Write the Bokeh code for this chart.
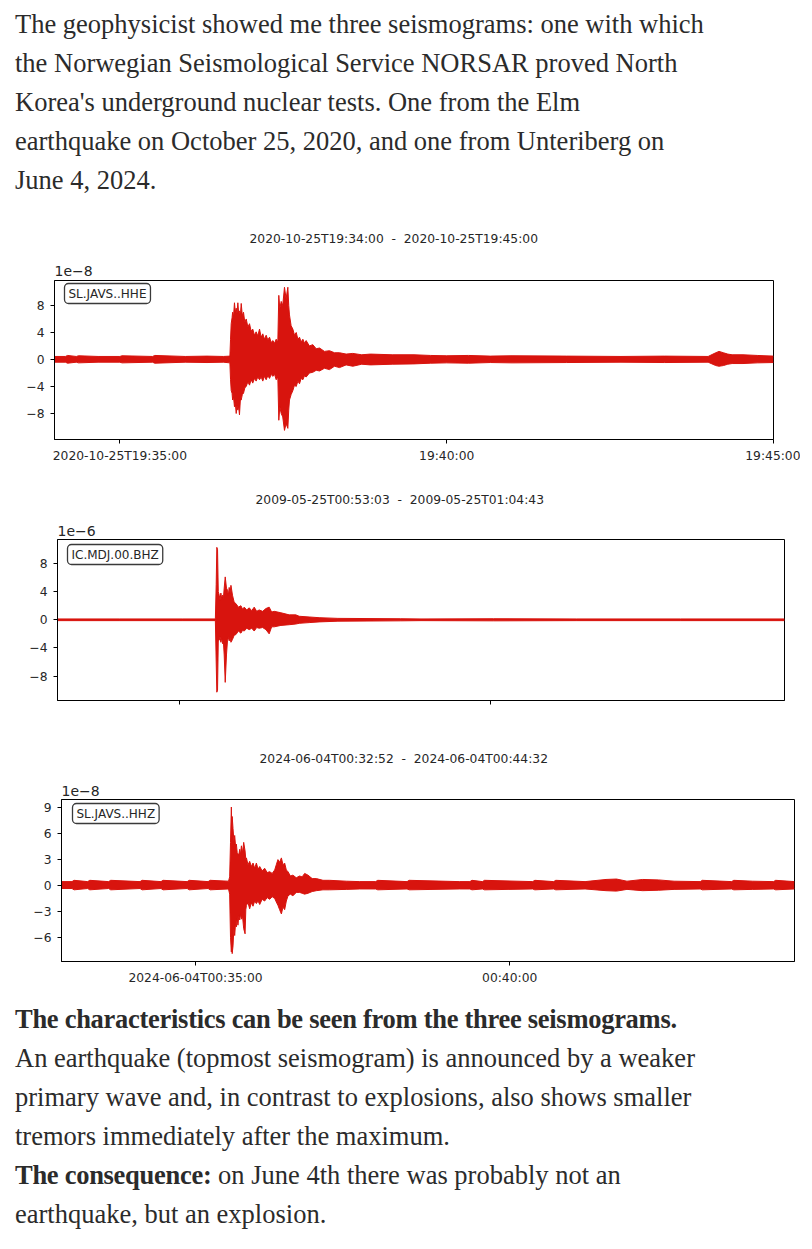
from bokeh.plotting import figure
from bokeh.models import Div, Title, Label, FixedTicker, Range1d
from bokeh.embed import file_html
from bokeh.resources import INLINE

RED = "#d8140e"
INK = "#262626"

# ---------------- Panel 1: Elm earthquake, SL.JAVS..HHE (units 1e-8), seconds after 19:34:00
t1 = [0, 10, 12, 20, 22, 40, 60, 62, 90, 92,
      120, 140, 155, 161.0, 161.6, 162.2, 163.0, 163.5, 164.3, 165.2,
      166.0, 166.8, 167.5, 168.3, 169.0, 169.8, 170.6, 171.4, 172.4, 173.5,
      174.7, 176.0, 177.5, 179.0, 180.5, 182.0, 183.5, 185.1, 186.6, 188.2,
      189.7, 191.2, 192.7, 194.3, 195.8, 197.4, 198.9, 200.4, 202.0, 203.5,
      205.0, 205.9, 206.8, 208.1, 209.5, 211.1, 212.6, 214.2, 215.0, 215.7,
      217.2, 218.8, 220.3, 221.9, 223.4, 224.9, 226.4, 228.0, 229.5, 231.0,
      234.0, 237.1, 240.2, 243.3, 247.8, 252.4, 257.0, 261.6, 267.7, 273.8,
      282, 290, 310, 330, 345, 360, 380, 400, 420, 470,
      520, 560, 600, 607, 610, 614, 618, 622, 632, 645,
      660]
up1 = [0.45, 0.45, 0.6, 0.45, 0.55, 0.45, 0.45, 0.55, 0.45, 0.6,
       0.45, 0.5, 0.45, 0.5, 3.0, 5.3, 6.2, 7.0, 6.3, 8.4,
       7.0, 7.6, 6.8, 8.4, 7.0, 7.2, 6.5, 8.3, 6.5, 7.0,
       5.5, 6.0, 4.8, 5.3, 4.2, 4.5, 3.6, 4.1, 3.5, 4.5,
       3.3, 3.8, 3.0, 3.6, 2.9, 3.3, 2.5, 2.8, 2.4, 3.0,
       2.6, 9.5, 7.5, 8.6, 8.0, 10.7, 9.0, 10.7, 8.0, 6.6,
       5.0, 4.5, 3.6, 4.0, 3.0, 3.3, 2.6, 3.0, 2.4, 2.8,
       2.0, 2.2, 1.6, 1.7, 1.2, 1.3, 1.0, 1.0, 0.8, 0.9,
       0.7, 0.8, 0.7, 0.7, 0.6, 0.55, 0.6, 0.5, 0.55, 0.5,
       0.45, 0.5, 0.45, 1.0, 1.2, 1.0, 0.8, 0.7, 0.7, 0.6,
       0.5]
lo1 = [-0.4, -0.4, -0.55, -0.4, -0.5, -0.4, -0.4, -0.5, -0.4, -0.55,
       -0.4, -0.45, -0.4, -0.5, -3.0, -4.6, -5.0, -6.0, -5.5, -7.0,
       -6.5, -8.0, -6.8, -7.5, -6.9, -8.2, -6.0, -6.0, -5.2, -5.0,
       -4.2, -4.0, -3.3, -3.8, -3.0, -3.5, -2.8, -3.2, -2.6, -3.0,
       -2.6, -3.2, -2.5, -3.0, -2.4, -2.8, -2.2, -2.5, -2.2, -3.0,
       -2.6, -9.0, -7.0, -8.0, -8.5, -10.5, -9.5, -10.2, -7.5, -6.0,
       -5.2, -4.6, -3.8, -4.0, -3.2, -3.6, -2.8, -3.0, -2.4, -2.6,
       -2.0, -1.9, -1.6, -1.7, -1.3, -1.5, -1.0, -1.2, -0.8, -1.0,
       -0.7, -0.8, -0.7, -0.65, -0.55, -0.5, -0.55, -0.45, -0.5, -0.45,
       -0.4, -0.45, -0.4, -0.9, -1.0, -0.9, -0.7, -0.6, -0.6, -0.5,
       -0.45]
x1_ticks = [60, 360, 660]
x1_labels = ["2020-10-25T19:35:00", "19:40:00", "19:45:00"]
y1_ticks = [-8, -4, 0, 4, 8]
y1_labels = ["\u22128", "\u22124", "0", "4", "8"]

# ---------------- Panel 2: North Korea test, IC.MDJ.00.BHZ (units 1e-6), seconds after 00:53:03
t2 = [0, 60, 120, 152.0, 152.8, 153.4, 154.1, 154.8, 155.7, 156.5,
      157.3, 158.1, 158.9, 159.7, 160.5, 161.5, 162.7, 163.7, 164.5, 165.3,
      166.2, 167.0, 168.5, 170.1, 171.8, 174.2, 176.6, 178.2, 179.8, 182.2,
      184.6, 187.0, 189.4, 191.8, 194.2, 197.5, 200.7, 203.8, 206.2, 208.7,
      215.1, 223.1, 229.5, 232.7, 242.3, 251.9, 270, 330, 350, 420,
      500, 600, 700]
up2 = [0.12, 0.12, 0.12, 0.12, 5.0, 10.3, 10.0, 4.0, 3.5, 2.8,
       3.8, 3.0, 3.5, 3.0, 4.5, 6.1, 4.5, 4.2, 3.5, 4.6,
       3.8, 4.9, 3.5, 2.5, 2.3, 1.8, 2.0, 1.5, 1.8, 1.4,
       1.7, 1.3, 1.8, 1.2, 1.4, 1.2, 1.6, 1.8, 1.1, 1.2,
       1.0, 0.7, 0.7, 0.5, 0.4, 0.3, 0.2, 0.15, 0.12, 0.15,
       0.12, 0.12, 0.12]
lo2 = [-0.12, -0.12, -0.12, -0.12, -6.0, -10.3, -10.0, -3.0, -2.9, -2.4,
       -3.2, -2.6, -3.4, -3.0, -5.0, -8.9, -5.0, -2.9, -2.5, -3.0,
       -2.6, -3.2, -2.8, -2.2, -2.1, -1.6, -1.9, -1.5, -1.6, -1.2,
       -1.4, -1.2, -1.6, -1.1, -1.2, -1.1, -1.4, -2.0, -1.0, -1.0,
       -0.8, -0.7, -0.6, -0.5, -0.4, -0.3, -0.2, -0.15, -0.12, -0.15,
       -0.12, -0.12, -0.12]
x2_ticks = [117, 417]
x2_labels = ["", ""]
y2_ticks = [-8, -4, 0, 4, 8]
y2_labels = ["\u22128", "\u22124", "0", "4", "8"]

# ---------------- Panel 3: Unteriberg, SL.JAVS..HHZ (units 1e-8), seconds after 00:32:52
t3 = [0, 10, 12, 25, 27, 45, 47, 75, 77, 95,
      97, 120, 122, 140, 142, 159.5, 160.6, 161.4, 162.2, 162.6,
      163.0, 163.8, 164.6, 165.4, 166.2, 167.0, 167.8, 168.5, 169.3, 170.2,
      171.0, 171.8, 172.9, 174.0, 175.3, 176.0, 176.6, 178.1, 179.7, 181.3,
      182.9, 184.5, 186.1, 187.7, 189.3, 191.6, 194.0, 196.4, 198.8, 201.2,
      203.6, 205.1, 206.7, 208.3, 210.0, 211.5, 213.1, 214.7, 216.3, 218.6,
      221.0, 224.2, 227.4, 229.8, 232.2, 235.4, 239.4, 243.4, 249.7, 256.1,
      272.0, 284.7, 300, 302, 330, 332, 380, 390, 392, 402,
      404, 450, 452, 470, 472, 500, 520, 530, 540, 555,
      570, 585, 610, 612, 640, 642, 660, 680, 682, 700]
up3 = [0.45, 0.45, 0.6, 0.45, 0.6, 0.45, 0.6, 0.45, 0.6, 0.45,
       0.6, 0.45, 0.6, 0.45, 0.6, 0.5, 1.0, 5.0, 9.1, 7.0,
       8.0, 6.6, 5.2, 5.8, 4.6, 4.8, 3.8, 3.7, 3.5, 4.2,
       3.6, 4.6, 3.8, 5.0, 4.0, 3.0, 3.2, 2.4, 2.8, 2.2,
       2.6, 2.0, 2.6, 1.9, 2.2, 1.7, 2.0, 1.5, 1.6, 1.4,
       1.8, 2.4, 3.0, 2.7, 3.2, 2.4, 2.6, 1.8, 1.6, 1.1,
       1.2, 0.9, 1.1, 1.0, 1.4, 1.2, 0.8, 0.8, 0.6, 0.6,
       0.5, 0.45, 0.45, 0.6, 0.45, 0.6, 0.45, 0.45, 0.6, 0.45,
       0.6, 0.45, 0.6, 0.45, 0.6, 0.45, 0.7, 0.75, 0.5, 0.7,
       0.65, 0.5, 0.45, 0.6, 0.45, 0.6, 0.5, 0.45, 0.6, 0.45]
lo3 = [-0.35, -0.35, -0.5, -0.35, -0.5, -0.35, -0.5, -0.35, -0.5, -0.35,
       -0.5, -0.35, -0.5, -0.35, -0.5, -0.4, -1.0, -6.0, -7.7, -6.5,
       -7.9, -7.0, -5.0, -5.8, -4.4, -4.8, -3.8, -4.6, -3.5, -4.0,
       -3.3, -3.9, -3.6, -5.0, -5.6, -2.8, -2.3, -2.0, -2.7, -2.0,
       -2.4, -1.8, -2.1, -1.8, -2.2, -1.6, -1.8, -1.4, -1.6, -1.3,
       -1.5, -1.9, -2.3, -2.8, -3.3, -2.5, -2.8, -1.8, -1.2, -1.0,
       -1.2, -0.8, -0.8, -0.9, -1.0, -0.9, -0.7, -0.6, -0.5, -0.5,
       -0.45, -0.4, -0.4, -0.5, -0.4, -0.5, -0.4, -0.4, -0.5, -0.4,
       -0.5, -0.4, -0.5, -0.4, -0.5, -0.4, -0.6, -0.65, -0.45, -0.6,
       -0.55, -0.45, -0.4, -0.5, -0.4, -0.5, -0.45, -0.4, -0.5, -0.4]
x3_ticks = [128, 428]
x3_labels = ["2024-06-04T00:35:00", "00:40:00"]
y3_ticks = [-6, -3, 0, 3, 6, 9]
y3_labels = ["\u22126", "\u22123", "0", "3", "6", "9"]

FIG_W = 800


def panel(t, up, lo, x_end, y_lo, y_hi, xt, xl, yt, yl, title_text, scale_text, station,
          height, b_top, b_bottom, b_left, b_right, title_off, box_dx, box_dy, s_gap, t_gap):
    p = figure(width=FIG_W, height=height, title=None,
               x_range=Range1d(0, x_end), y_range=Range1d(y_lo, y_hi),
               output_backend="svg", toolbar_location=None,
               min_border_top=b_top, min_border_bottom=b_bottom,
               min_border_left=b_left, min_border_right=b_right)
    p.grid.visible = False
    p.outline_line_color = "black"
    p.outline_line_width = 1
    p.background_fill_color = "white"
    p.border_fill_color = "white"

    p.varea(x=t, y1=lo, y2=up, fill_color=RED)
    p.line(t, up, line_color=RED, line_width=1)
    p.line(t, lo, line_color=RED, line_width=1)

    for ax in (p.xaxis[0], p.yaxis[0]):
        ax.major_tick_in = 0
        ax.major_tick_out = 4
        ax.minor_tick_line_color = None
        ax.axis_line_color = "black"
        ax.major_tick_line_color = "black"
        ax.major_label_text_font = "DejaVu Sans"
        ax.major_label_text_font_size = "12.3px"
        ax.major_label_text_color = INK
    p.xaxis[0].ticker = FixedTicker(ticks=xt)
    p.xaxis[0].major_label_overrides = dict(zip(xt, xl))
    p.xaxis[0].major_label_standoff = 5
    p.yaxis[0].ticker = FixedTicker(ticks=yt)
    p.yaxis[0].major_label_overrides = dict(zip(yt, yl))
    p.yaxis[0].major_label_standoff = 6

    st = Title(text=scale_text, align="left", text_font="DejaVu Sans", text_font_size="14px",
               text_font_style="normal", text_color=INK, standoff=s_gap)
    p.add_layout(st, "above")
    mt = Title(text=title_text, align="left", offset=title_off, text_font="DejaVu Sans",
               text_font_size="12.3px", text_font_style="normal", text_color=INK, standoff=t_gap)
    p.add_layout(mt, "above")

    fh = height - b_top - b_bottom
    lab = Label(x=box_dx, y=fh - box_dy, x_units="screen", y_units="screen", anchor="top_left",
                text=station, text_font="DejaVu Sans", text_font_size="12px", text_color=INK,
                background_fill_color="white", border_line_color="#3a3a3a", border_line_width=1.3,
                padding=(4, 3), border_radius=4)
    p.add_layout(lab)
    return p


p1 = panel(t1, up1, lo1, 660, -11.85, 11.7, x1_ticks, x1_labels, y1_ticks, y1_labels,
           "2020-10-25T19:34:00\u00a0 - \u00a02020-10-25T19:45:00", "1e\u22128", "SL.JAVS..HHE",
           260, 70, 31, 54, FIG_W - 54 - 719, 195, 10, 3, 9, 27)
p2 = panel(t2, up2, lo2, 700, -11.48, 11.42, x2_ticks, x2_labels, y2_ticks, y2_labels,
           "2009-05-25T00:53:03\u00a0 - \u00a02009-05-25T01:04:43", "1e\u22126", "IC.MDJ.00.BHZ",
           258, 69, 28, 57, FIG_W - 57 - 727, 198, 10, 5, 7, 28)
p3 = panel(t3, up3, lo3, 700, -8.81, 9.97, x3_ticks, x3_labels, y3_ticks, y3_labels,
           "2024-06-04T00:32:52\u00a0 - \u00a02024-06-04T00:44:32", "1e\u22128", "SL.JAVS..HHZ",
           267, 71, 34, 61, FIG_W - 61 - 733, 198, 11, 4, 8, 28)

TXT = ("font-family:'Liberation Serif',serif;font-size:26.5px;line-height:39px;color:#2b2b2b;"
       "padding-left:15px;white-space:nowrap;margin:0;")
BOLD = "letter-spacing:-0.28px;"
intro = Div(width=FIG_W, height=210, margin=(0, 0, 0, 0),
            text=f"<div style=\"{TXT}padding-top:5px;\">"
                 "The geophysicist showed me three seismograms: one with which<br>"
                 "the Norwegian Seismological Service NORSAR proved North<br>"
                 "Korea's underground nuclear tests. One from the Elm<br>"
                 "earthquake on October 25, 2020, and one from Unteriberg on<br>"
                 "June 4, 2024.</div>")
outro = Div(width=FIG_W, height=250, margin=(0, 0, 0, 0),
            text=f"<div style=\"{TXT}padding-top:5px;\">"
                 f"<b style=\"{BOLD}\">The characteristics can be seen from the three seismograms.</b><br>"
                 "An earthquake (topmost seismogram) is announced by a weaker<br>"
                 "primary wave and, in contrast to explosions, also shows smaller<br>"
                 "tremors immediately after the maximum.<br>"
                 f"<b style=\"{BOLD}\">The consequence:</b> on June 4th there was probably not an<br>"
                 "earthquake, but an explosion.</div>")

open("out.html", "w").write(file_html([intro, p1, p2, p3, outro], INLINE))
